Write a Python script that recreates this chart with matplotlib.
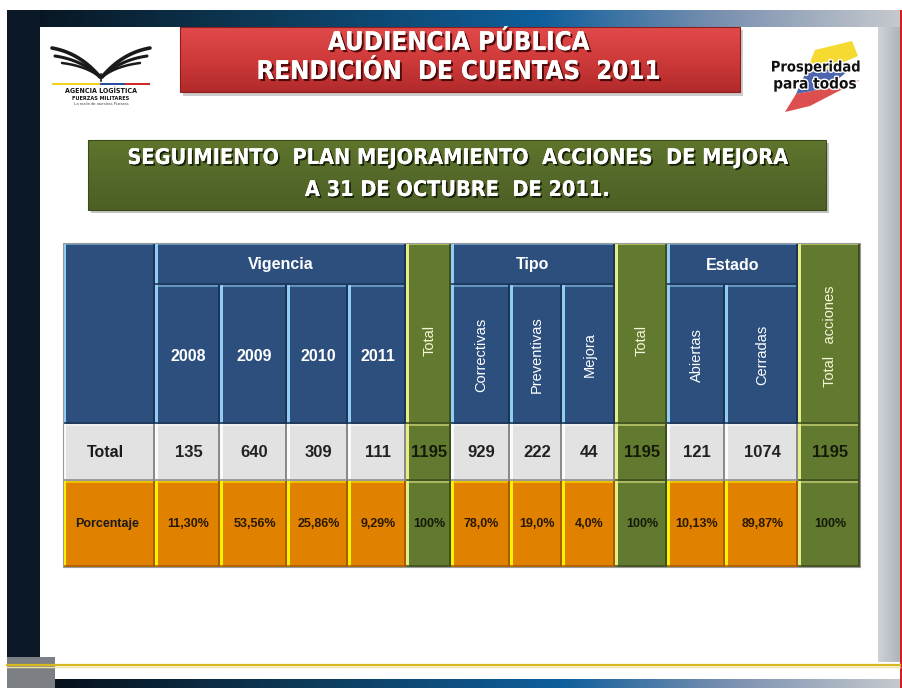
import numpy as np
import matplotlib
matplotlib.use('Agg')
import matplotlib.pyplot as plt
from matplotlib.patches import Rectangle, Polygon
import matplotlib.patheffects as pe
from matplotlib.colors import LinearSegmentedColormap

# ---------------- data ----------------
years = ['2008', '2009', '2010', '2011']
vig_counts = [135, 640, 309, 111]
vig_pct = ['11,30%', '53,56%', '25,86%', '9,29%']
tipo_labels = ['Correctivas', 'Preventivas', 'Mejora']
tipo_counts = [929, 222, 44]
tipo_pct = ['78,0%', '19,0%', '4,0%']
estado_labels = ['Abiertas', 'Cerradas']
estado_counts = [121, 1074]
estado_pct = ['10,13%', '89,87%']
group_labels = ['Vigencia', 'Tipo', 'Estado']
row_labels = ['Total', 'Porcentaje']
total_label = 'Total'
grand_label = 'Total   acciones'
total_pct = '100%'

title_lines = ['AUDIENCIA PÚBLICA', 'RENDICIÓN  DE CUENTAS  2011']
subtitle_lines = ['SEGUIMIENTO  PLAN MEJORAMIENTO  ACCIONES  DE MEJORA',
                  'A 31 DE OCTUBRE  DE 2011.']

# ---------------- fonts ----------------
SANS = ['Liberation Sans', 'DejaVu Sans']
COND = dict(family=['DejaVu Sans'], fontstretch='condensed')
plt.rcParams['font.family'] = SANS

W, H = 902, 688
fig = plt.figure(figsize=(W / 100, H / 100), dpi=100)
ax = fig.add_axes([0, 0, 1, 1])
ax.set_xlim(0, W)
ax.set_ylim(H, 0)
ax.axis('off')


def grad(x0, x1, y0, y1, colors, horizontal=True, z=1):
    cmap = LinearSegmentedColormap.from_list('g', colors)
    arr = np.linspace(0, 1, 256)
    arr = arr.reshape(1, -1) if horizontal else arr.reshape(-1, 1)
    ax.imshow(arr, extent=[x0, x1, y1, y0], aspect='auto', cmap=cmap,
              zorder=z, origin='upper', interpolation='bicubic')


def rect(x0, y0, x1, y1, fc, ec='none', lw=0, z=2, alpha=1):
    ax.add_patch(Rectangle((x0, y0), x1 - x0, y1 - y0, facecolor=fc,
                           edgecolor=ec, linewidth=lw, zorder=z, alpha=alpha))


# ---------------- slide frame ----------------
band = [(0.0, '#07121d'), (0.25, '#0d3550'), (0.6, '#0f5f9c'), (0.8, '#7a90b0'), (1.0, '#c4c8cc')]
grad(7, 900, 10, 27, band, z=1)
rect(7, 10, 40, 658, '#0b1926', z=1)
grad(878, 900, 27, 662, ['#cfd3d8', '#aeb4bb'], z=1)
rect(900, 10, 902, H, '#d02020', z=2)
rect(40, 27, 878, 662, 'white', z=1)
rect(7, 657, 55, H, '#7c7f84', z=2)
grad(55, 900, 679, H, band, z=1)
ax.plot([7, 900], [665, 665], color='#d8b820', lw=1.6, zorder=3)
ax.plot([7, 900], [667, 667], color='#f0e6a0', lw=1.0, zorder=3)

# ---------------- title box ----------------
rect(183, 30, 743, 96, '#9a9a9a', z=2, alpha=0.5)
grad(180, 740, 27, 92, ['#e04a4a', '#cf3a3a', '#b22a2a'], horizontal=False, z=3)
rect(180, 27, 740, 92, 'none', ec='#8a1e1e', lw=0.8, z=4)
shadow = [pe.withSimplePatchShadow(offset=(1.5, -1.5), shadow_rgbFace='#300000', alpha=0.8), pe.Normal()]
for i, t in enumerate(title_lines):
    ax.text(459, 43 + i * 29, t, ha='center', va='center', color='white',
            fontsize=18.5, fontweight='bold', zorder=5, path_effects=shadow, **COND)

# ---------------- left logo ----------------
def curve(p0, p1, p2, lw):
    t = np.linspace(0, 1, 40)
    x = (1 - t) ** 2 * p0[0] + 2 * (1 - t) * t * p1[0] + t ** 2 * p2[0]
    y = (1 - t) ** 2 * p0[1] + 2 * (1 - t) * t * p1[1] + t ** 2 * p2[1]
    ax.plot(x, y, color='#1a1a1a', lw=lw, zorder=4, solid_capstyle='round')

cx = 101
for (tx, ty, ctx, cty, lw) in [(52, 48, 80, 53, 2.6), (55, 56, 82, 60, 2.2), (62, 63, 86, 66, 1.8)]:
    curve((tx, ty), (ctx, cty), (cx - 1, 77), lw)
    curve((2 * cx - tx, ty), (2 * cx - ctx, cty), (cx + 1, 77), lw)
ax.plot([cx, cx], [74, 81], color='#1a1a1a', lw=1.2, zorder=4)
rect(52, 82.5, 100, 85, '#f2d21c', z=4)
rect(100, 82.5, 125, 85, '#2a4fa0', z=4)
rect(125, 82.5, 150, 85, '#d02828', z=4)
ax.text(101, 91, 'AGENCIA LOGÍSTICA', ha='center', va='center', fontsize=5,
        fontweight='bold', color='#111111', zorder=4, **COND)
ax.text(101, 98, 'FUERZAS MILITARES', ha='center', va='center', fontsize=4,
        fontweight='bold', color='#111111', zorder=4, **COND)
ax.text(101, 104, 'La razón de nuestras Fuerzas', ha='center', va='center', fontsize=3,
        color='#444444', zorder=4)

# ---------------- right logo ----------------
ax.add_patch(Polygon([(815, 50), (852, 41), (858, 56), (826, 70), (806, 72)],
                     closed=True, facecolor='#f4d81a', edgecolor='none', zorder=3, alpha=0.9))
ax.add_patch(Polygon([(806, 72), (826, 70), (858, 62), (828, 88), (796, 94)],
                     closed=True, facecolor='#2c4aa0', edgecolor='none', zorder=3, alpha=0.85))
ax.add_patch(Polygon([(796, 94), (828, 88), (860, 80), (810, 106), (785, 112)],
                     closed=True, facecolor='#d83030', edgecolor='none', zorder=3, alpha=0.85))
lw_eff = [pe.withStroke(linewidth=2, foreground='white')]
ax.text(816, 67, 'Prosperidad', ha='center', va='center', fontsize=10.5, fontweight='bold',
        color='#111111', zorder=4, path_effects=lw_eff, **COND)
ax.text(815, 84, 'para todos', ha='center', va='center', fontsize=11, fontweight='bold',
        color='#111111', zorder=4, path_effects=lw_eff, **COND)

# ---------------- subtitle box ----------------
rect(91, 143, 829, 213, '#8a8a8a', z=2, alpha=0.5)
grad(88, 826, 140, 210, ['#5f752c', '#55692a', '#4d6024'], horizontal=False, z=3)
rect(88, 140, 826, 210, 'none', ec='#3c4a1a', lw=0.8, z=4)
shadow2 = [pe.withSimplePatchShadow(offset=(1.3, -1.3), shadow_rgbFace='#101805', alpha=0.9), pe.Normal()]
for i, t in enumerate(subtitle_lines):
    ax.text(457, 158 + i * 32, t, ha='center', va='center', color='white',
            fontsize=15.5, fontweight='bold', zorder=5, path_effects=shadow2, **COND)

# ---------------- table ----------------
col_edges = [63, 155, 220, 287, 348, 406, 451, 510, 562, 615, 667, 725, 798, 860]
row_edges = [243, 285, 424, 481, 567]

BLUE, BLUE_L, BLUE_D = '#2c4f7d', '#8fcdf4', '#1c3556'
GREEN, GREEN_L, GREEN_D = '#627a30', '#e6ec86', '#3e4e1c'
GRAY, GRAY_L, GRAY_D = '#e2e2e2', '#fbfbfb', '#8a8a8a'
ORANGE, ORANGE_L, ORANGE_D = '#e08200', '#fff200', '#a85c00'


def cell(x0, x1, y0, y1, fc, lc, dc):
    rect(x0, y0, x1, y1, fc, z=3)
    rect(x0, y0, x1, y0 + 1.5, lc, z=4, alpha=0.55)
    rect(x0, y0, x0 + 3, y1, lc, z=4)
    rect(x1 - 2, y0, x1, y1, dc, z=4)
    rect(x0, y1 - 2, x1, y1, dc, z=4, alpha=0.8)


# assemble columns from the data
columns = [('label', None, None, None)]
groups = [(years, vig_counts, vig_pct, 0), (tipo_labels, tipo_counts, tipo_pct, 90),
          (estado_labels, estado_counts, estado_pct, 90)]
for gi, (labels, counts, pcts, rot) in enumerate(groups):
    for lab, cnt, pc in zip(labels, counts, pcts):
        columns.append(('cat', (lab, rot), cnt, pc))
    if gi < 2:
        columns.append(('tot', total_label, sum(counts), total_pct))
    else:
        columns.append(('grand', grand_label, sum(counts), total_pct))

y_h0, y_h1, y_h2, y_r1, y_r2 = row_edges
val_kw = dict(ha='center', va='center', fontweight='bold', zorder=6)

for ci, (kind, lab, cnt, pc) in enumerate(columns):
    x0, x1 = col_edges[ci], col_edges[ci + 1]
    xc = (x0 + x1) / 2
    if kind == 'label':
        cell(x0, x1, y_h0, y_h2, BLUE, BLUE_L, BLUE_D)
        cell(x0, x1, y_h2, y_r1, GRAY, GRAY_L, GRAY_D)
        ax.text(xc - 4, (y_h2 + y_r1) / 2, row_labels[0], fontsize=11.5, color='#1a1a1a', **val_kw)
        cell(x0, x1, y_r1, y_r2, ORANGE, ORANGE_L, ORANGE_D)
        ax.text(xc - 2, (y_r1 + y_r2) / 2, row_labels[1], fontsize=9, color='#1a1a1a', **val_kw)
    elif kind == 'cat':
        text, rot = lab
        cell(x0, x1, y_h1, y_h2, BLUE, BLUE_L, BLUE_D)
        if rot == 0:
            ax.text(xc + 1, (y_h1 + y_h2) / 2 + 2, text, fontsize=11.5, color='white', **val_kw)
        else:
            ax.text(xc + 1, 355, text, rotation=90, fontsize=10.5, color='white',
                    ha='center', va='center', zorder=6)
        cell(x0, x1, y_h2, y_r1, GRAY, GRAY_L, GRAY_D)
        ax.text(xc + 1, (y_h2 + y_r1) / 2, str(cnt), fontsize=12, color='#222222', **val_kw)
        cell(x0, x1, y_r1, y_r2, ORANGE, ORANGE_L, ORANGE_D)
        ax.text(xc + 1, (y_r1 + y_r2) / 2, pc, fontsize=9, color='#2a1800', **val_kw)
    else:
        cell(x0, x1, y_h0, y_h2, GREEN, GREEN_L, GREEN_D)
        ax.text(xc + 1, 340 if kind == 'tot' else 336, lab, rotation=90, fontsize=10.5,
                color='#f6f6d8', ha='center', va='center', zorder=6)
        cell(x0, x1, y_h2, y_r1, GREEN, GREEN_L, GREEN_D)
        ax.text(xc + 1, (y_h2 + y_r1) / 2, str(cnt), fontsize=12, color='#141a08', **val_kw)
        cell(x0, x1, y_r1, y_r2, GREEN, GREEN_L, GREEN_D)
        ax.text(xc + 1, (y_r1 + y_r2) / 2, pc, fontsize=9, color='#141a08', **val_kw)

# group header cells (Vigencia / Tipo / Estado)
group_spans = [(1, 5), (6, 9), (10, 12)]
for name, (a, b) in zip(group_labels, group_spans):
    x0, x1 = col_edges[a], col_edges[b]
    cell(x0, x1, y_h0, y_h1, BLUE, BLUE_L, BLUE_D)
    ax.text((x0 + x1) / 2, (y_h0 + y_h1) / 2 + 1, name, fontsize=11.5, color='white', **val_kw)

rect(col_edges[0], row_edges[0], col_edges[-1], row_edges[-1], 'none', ec='#9a9a9a', lw=0.8, z=7)

fig.savefig('out.png', dpi=100)
